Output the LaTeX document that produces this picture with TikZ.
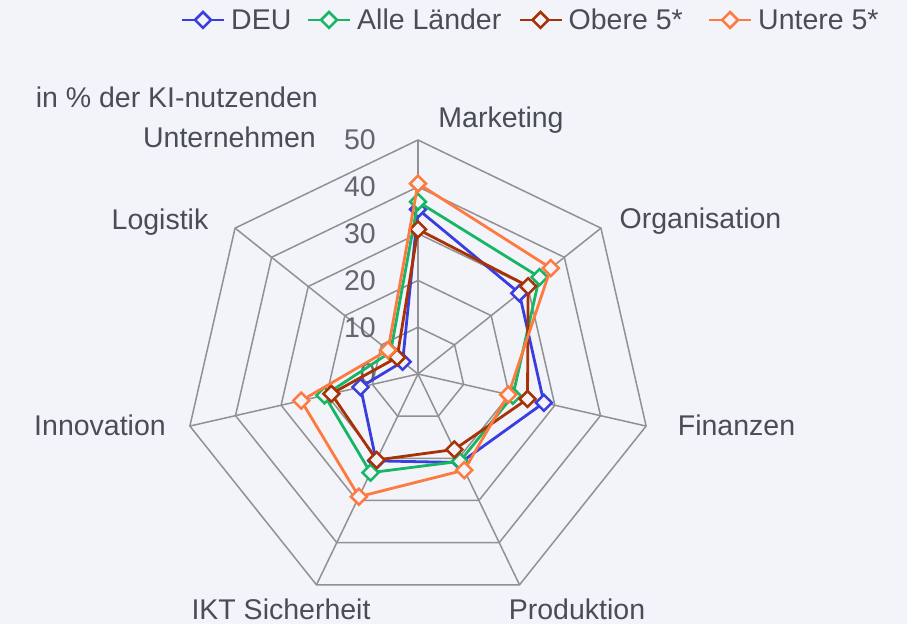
\documentclass[tikz,border=0pt]{standalone}
\usepackage{fontspec}
\setmainfont{Liberation Sans}
\usetikzlibrary{shapes.geometric}
\definecolor{bg}{RGB}{243,244,250}
\definecolor{txt}{RGB}{72,77,88}
\definecolor{gridc}{RGB}{145,145,145}
\definecolor{cdeu}{RGB}{58,62,222}
\definecolor{call}{RGB}{22,182,100}
\definecolor{cob}{RGB}{168,50,5}
\definecolor{cun}{RGB}{255,122,62}
\begin{document}
\begin{tikzpicture}[x=1pt,y=1pt,
  lbl/.style={text=txt,inner sep=0pt,font=\fontsize{28.5}{34}\selectfont},
  tick/.style={text=txt!85!bg,inner sep=0pt,anchor=east,font=\fontsize{28.5}{34}\selectfont},
  gridline/.style={draw=gridc,line width=1.5pt},
  series/.style={line width=2.8pt,line join=round},
  mk/.style={diamond,draw,fill=bg,line width=2.5pt,minimum width=17pt,minimum height=17pt,inner sep=0pt}]
\fill[bg] (-418,-250) rectangle (489,374);
\useasboundingbox (-418,-250) rectangle (489,374);
\coordinate (C) at (0,0);
% grid rings
\foreach \k in {1,...,5}{
  \draw[gridline] (90:{\k*46.8}) \foreach \i in {1,...,6}{ -- ({90-\i*360/7}:{\k*46.8}) } -- cycle;
}
% spokes
\foreach \i in {0,...,6}{
  \coordinate (ax\i) at ({90-\i*360/7}:234);
  \draw[gridline] (C) -- (ax\i);
}
% tick labels
\foreach \k in {0,...,5}{
  \pgfmathtruncatemacro{\val}{\k*10}
  \node[tick] (t\k) at (-42,{\k*46.8}) {\val};
}
% axis labels
\node[lbl,anchor=base] (lmark) at (83,246) {Marketing};
\node[lbl,anchor=base] (lorg) at (282.5,146) {Organisation};
\node[lbl,anchor=base] (lfin) at (318.5,-61) {Finanzen};
\node[lbl,anchor=base] (lprod) at (159,-245) {Produktion};
\node[lbl,anchor=base] (likt) at (-137,-245) {IKT Sicherheit};
\node[lbl,anchor=base] (linn) at (-318,-61) {Innovation};
\node[lbl,anchor=base] (llog) at (-258,144) {Logistik};
\node[lbl,anchor=base east] (unit1) at (-100,266) {in \% der KI-nutzenden};
\node[lbl,anchor=base east] (unit2) at (-102,226) {Unternehmen};
% series
\foreach \nm/\col/\vals in {deu/cdeu/{35.2,27.7,27.6,21.0,20.6,12.6,4.2},
    all/call/{36.8,33.2,20.8,20.7,23.4,20.5,7.5},
    ob/cob/{30.9,30.1,24.0,17.9,20.4,19.0,5.7},
    un/cun/{40.7,36.3,19.8,22.8,29.1,25.6,8.2}}{
  \foreach \v [count=\i from 0] in \vals {
    \coordinate (\nm\i) at ({90-\i*360/7}:{\v*4.68});
  }
  \draw[series,\col] (\nm0) -- (\nm1) -- (\nm2) -- (\nm3) -- (\nm4) -- (\nm5) -- (\nm6) -- cycle;
  \foreach \i in {0,...,6}{
    \node[mk,draw=\col] (m\nm\i) at (\nm\i) {};
  }
}
% legend
\foreach \nm/\col/\xa/\txt in {deu/cdeu/-236/DEU, all/call/-110/Alle Länder, ob/cob/101.5/Obere 5*, un/cun/291/Untere 5*}{
  \coordinate (la\nm) at (\xa,354);
  \coordinate (lb\nm) at (\xa+42,354);
  \draw[series,\col] (la\nm) -- (lb\nm);
  \node[mk,draw=\col] (lm\nm) at (\xa+21,354) {};
  \node[lbl,anchor=base west] (lt\nm) at (\xa+49,344) {\txt};
}
\end{tikzpicture}
\end{document}
